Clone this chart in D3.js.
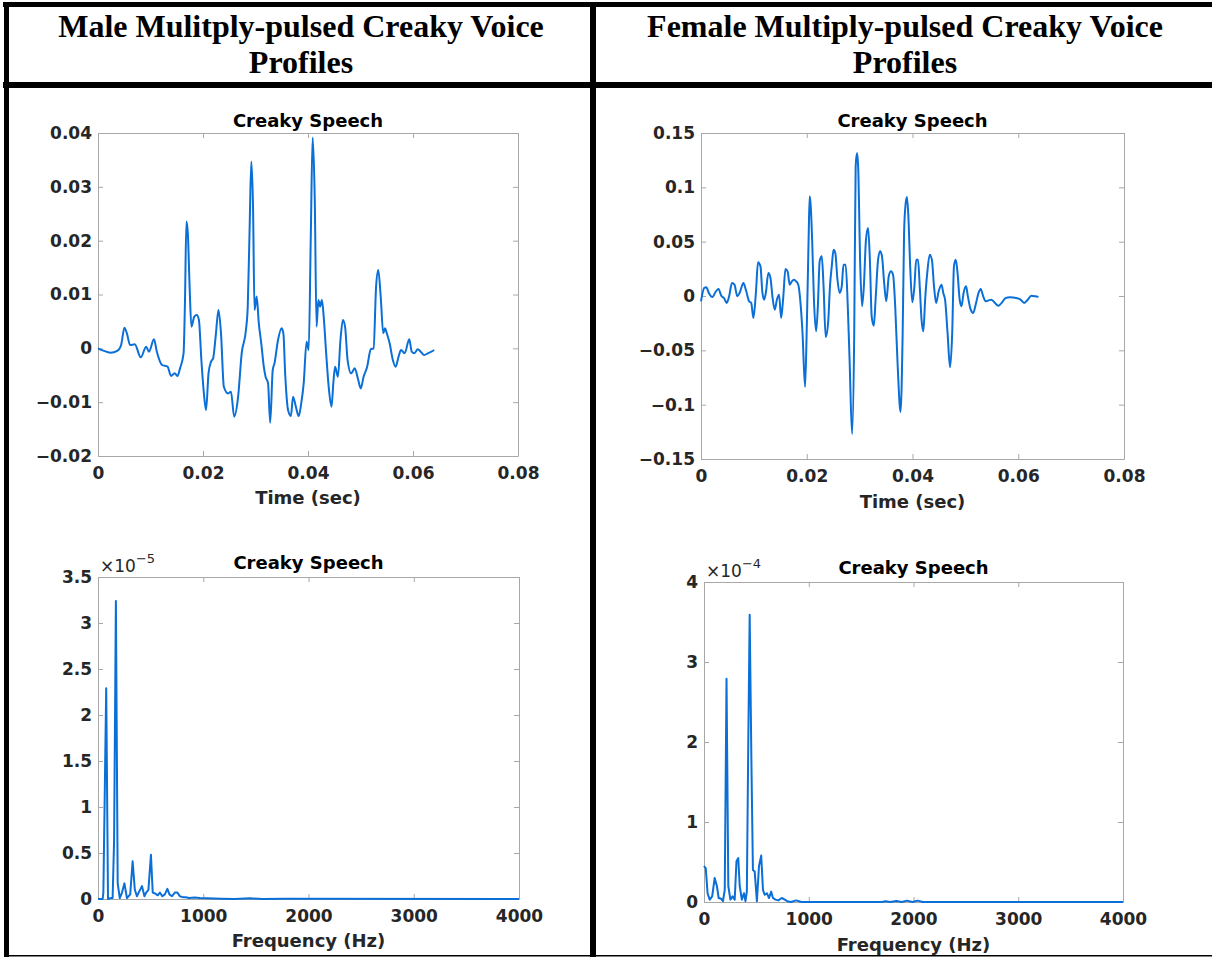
<!DOCTYPE html>
<html>
<head>
<meta charset="utf-8">
<script src="https://cdn.jsdelivr.net/npm/d3@7"></script>
<style>
  html, body { margin: 0; padding: 0; background: #fff; }
  svg { display: block; }
</style>
</head>
<body>
<script>
// ---- Data -----------------------------------------------------------------

// Male creaky speech segment: time (ms) and amplitude (×1e-3)
const maleTimeMs = [0.00,1.02,2.38,3.74,4.41,5.03,5.50,6.11,7.00,8.15,
  9.17,9.71,10.66,11.21,12.22,13.24,13.92,14.60,15.14,15.62,
  16.30,16.57,16.84,17.11,17.45,17.79,18.34,18.81,19.22,19.69,
  20.17,20.58,21.05,21.53,21.93,22.41,22.95,23.43,23.97,24.79,
  25.33,25.94,26.69,27.37,28.18,28.52,28.86,29.20,29.54,29.81,
  30.22,30.63,31.10,31.58,31.92,32.39,32.80,33.28,33.62,34.29,
  34.97,35.31,35.65,36.20,36.74,37.15,37.69,38.23,38.71,39.18,
  39.73,40.13,40.54,40.88,41.29,41.63,41.97,42.31,42.65,42.99,
  43.46,43.94,44.48,44.82,45.16,45.70,46.18,46.65,47.06,47.54,
  48.22,48.90,49.57,50.05,50.59,51.27,51.95,52.49,52.97,53.38,
  53.85,54.33,54.67,55.01,55.55,56.16,56.70,57.25,57.72,58.40,
  59.29,59.76,60.24,60.92,61.46,62.14,62.82,63.50,64.04];
const maleAmpMilli = [0.0,-0.43,-0.81,-0.43,0.62,3.84,2.79,0.62,0.74,-1.67,
  0.31,-0.62,1.67,-0.62,-3.10,-3.41,-5.14,-4.65,-5.14,-3.72,
  -0.93,8.99,23.55,21.38,11.47,4.03,5.89,6.20,5.27,-2.17,
  -8.37,-11.47,-4.65,-2.48,-1.86,2.17,7.13,2.79,-7.13,-8.37,
  -8.06,-12.71,-8.99,-0.93,3.41,7.75,21.38,34.71,25.72,7.13,
  9.61,4.65,0.93,-3.41,-5.27,-6.51,-13.82,-4.03,-2.79,1.55,
  3.72,2.79,-4.65,-11.47,-12.58,-8.99,-10.85,-12.58,-10.23,-6.51,
  1.24,-0.31,21.38,39.17,27.58,4.03,8.99,7.75,8.99,5.89,
  -0.93,-7.13,-10.85,-6.51,-3.41,-5.27,1.55,5.27,4.03,-2.17,
  -4.65,-3.72,-5.89,-7.44,-5.27,-3.41,-0.19,0.0,11.47,14.57,
  9.61,2.79,3.72,2.79,0.93,-2.17,-3.41,-1.55,-0.31,-0.93,
  1.67,-0.62,-0.93,-0.19,-0.62,-1.24,-0.93,-0.62,-0.31];

// Female creaky speech segment: time (ms) and amplitude (×1e-3)
const femaleTimeMs = [0.00,0.61,1.01,1.48,2.16,2.83,3.30,3.84,4.38,4.85,
  5.32,5.86,6.33,6.87,7.35,8.02,8.56,9.10,9.50,9.91,
  10.38,10.78,11.25,11.59,11.93,12.26,12.74,13.14,13.54,13.95,
  14.35,14.76,15.16,15.57,15.97,16.37,16.78,17.18,17.59,17.99,
  18.40,18.87,19.20,19.68,20.01,20.35,20.55,20.75,21.02,21.36,
  21.77,22.10,22.44,22.84,23.18,23.58,24.06,24.39,24.73,25.07,
  25.40,25.81,26.21,26.62,26.95,27.36,27.76,28.10,28.57,28.98,
  29.25,29.51,29.72,30.12,30.46,30.80,31.20,31.60,31.94,32.28,
  32.68,33.02,33.49,33.89,34.23,34.64,35.04,35.51,35.92,36.32,
  36.73,37.20,37.74,38.14,38.41,38.68,38.95,39.22,39.56,39.96,
  40.36,40.70,41.04,41.37,41.71,42.05,42.39,42.79,43.26,43.67,
  44.07,44.47,44.95,45.49,45.82,46.16,46.63,47.10,47.51,47.84,
  48.18,48.52,48.92,49.26,49.66,50.13,50.47,51.01,51.48,52.02,
  52.49,52.90,53.37,53.84,54.38,54.92,55.73,56.27,56.94,57.61,
  58.42,59.64,60.44,61.12,61.79,62.47,63.27,63.81];
const femaleAmpMilli = [-4.9,7.4,8.0,2.8,-0.9,4.3,6.4,0.3,-2.1,-6.4,
  -0.3,12.0,10.4,-0.3,3.4,12.0,4.3,-4.9,-6.4,-20.2,
  2.8,31.0,27.3,4.3,-3.4,2.8,21.2,16.6,-1.8,-12.6,
  -3.4,1.2,-20.2,-0.3,24.8,22.7,10.4,13.5,15.0,13.5,
  10.4,-9.5,-34.0,-83.7,-27.9,51.8,91.7,83.1,51.8,-3.4,
  -32.5,-9.5,31.9,36.5,8.9,-37.7,-23.3,8.9,27.3,42.6,
  39.6,15.0,2.8,8.9,28.8,28.8,-9.5,-58.6,-127.0,-34.0,
  119.3,131.6,119.3,27.3,-9.5,8.9,51.8,62.6,33.4,-18.7,
  -27.3,-3.4,33.4,41.1,36.5,12.0,-4.9,18.1,22.7,19.6,
  -9.5,-64.7,-106.7,-34.0,58.0,84.0,91.1,73.3,27.3,-5.8,
  8.9,33.4,33.4,8.9,-21.8,-32.5,-3.4,21.2,38.0,33.4,
  8.9,-6.4,4.3,10.4,2.8,-3.4,-34.0,-65.6,-34.0,27.3,
  33.4,21.2,-3.4,-9.5,2.8,8.9,-0.3,-12.6,-15.6,-6.4,
  2.8,6.4,-0.3,-4.9,-4.0,-3.4,-7.1,-8.9,-5.8,-1.8,
  -1.2,-1.8,-3.4,-6.4,-3.4,0.3,-0.3,-0.9];

// Magnitude spectra: frequency (Hz) and magnitude (male ×1e-5, female ×1e-4)
const maleFreqHz = [0,44,51,78,95,119,139,153,170,187,
  207,228,251,275,306,329,350,370,391,418,
  441,458,479,503,520,543,567,588,611,635,
  659,679,703,730,754,778,805,832,866,917,
  968,1036,1172,1300,1443,1560,1783,4000];
const maleMag = [0,0,0.07,2.29,0,0.01,0.01,0.64,3.24,0.17,
  0.01,0.07,0.17,0.01,0.05,0.41,0.10,0.03,0.08,0.14,
  0.03,0.07,0.10,0.48,0.07,0.06,0.04,0.07,0.03,0.05,
  0.11,0.05,0.03,0.07,0.07,0.03,0.02,0.02,0.01,0.015,
  0.01,0.007,0.004,0.001,0.007,0.001,0.004,0];

const femaleFreqHz = [0,17,34,55,78,102,123,140,164,181,
  198,215,232,252,273,293,310,327,341,361,
  382,396,409,423,436,454,467,484,505,525,
  546,563,580,600,621,641,658,682,709,743,
  771,795,829,880,931,1050,1391,1700,1732,1780,
  1835,1890,1937,1990,2039,2090,4000];
const femaleMag = [0.45,0.42,0.11,0.03,0.07,0.30,0.20,0.05,0.04,0.01,
  0.15,2.79,0.20,0.03,0.07,0.03,0.51,0.55,0.20,0.03,
  0.11,0.01,0.13,2.03,3.59,1.61,0.40,0.38,0.01,0.45,
  0.58,0.15,0.09,0.11,0.05,0.13,0.05,0.03,0.02,0.05,
  0.03,0.01,0,0.02,0,0,0,0,0.01,0,
  0.012,0,0.017,0,0.017,0,0];

// Tick values
const timeTicks = [0, 0.02, 0.04, 0.06, 0.08];
const freqTicks = [0, 1000, 2000, 3000, 4000];
const maleWaveTicks = [-0.02, -0.01, 0, 0.01, 0.02, 0.03, 0.04];
const femaleWaveTicks = [-0.15, -0.1, -0.05, 0, 0.05, 0.1, 0.15];
const maleSpecTicks = [0, 0.5, 1, 1.5, 2, 2.5, 3, 3.5];
const femaleSpecTicks = [0, 1, 2, 3, 4];

// Column headings
const headings = [
  ["Male Mulitply-pulsed Creaky Voice", "Profiles"],
  ["Female Multiply-pulsed Creaky Voice", "Profiles"]
];

// ---- Drawing ---------------------------------------------------------------

const W = 1212, H = 957;
const svg = d3.select("body").append("svg").attr("width", W).attr("height", H);

const AX_FONT = "'DejaVu Sans', 'Open Sans', sans-serif";
const TEXT_COLOR = "#262626";
const AXIS_COLOR = "#a8a8a8";
const LINE_COLOR = "#0a6fd6";

// Table frame
const frame = svg.append("g").attr("fill", "#000");
frame.append("rect").attr("x", 3).attr("y", 2).attr("width", W - 3).attr("height", 5);
frame.append("rect").attr("x", 3).attr("y", 82).attr("width", W - 3).attr("height", 6);
frame.append("rect").attr("x", 4).attr("y", 2).attr("width", 5).attr("height", H - 2);
frame.append("rect").attr("x", 590).attr("y", 2).attr("width", 6).attr("height", H - 2);
frame.append("rect").attr("x", 4).attr("y", H - 2).attr("width", W - 4).attr("height", 1.5);

// Headings
const headCenters = [301, 905];
headings.forEach((lines, i) => {
  const t = svg.append("text")
    .attr("x", headCenters[i])
    .attr("text-anchor", "middle")
    .attr("font-family", "'Liberation Serif', 'Times New Roman', serif")
    .attr("font-weight", "bold")
    .attr("font-size", 32)
    .attr("fill", "#000");
  lines.forEach((ln, j) => {
    t.append("tspan").attr("x", headCenters[i]).attr("y", 37 + j * 36).text(ln);
  });
});

// Number format: trims trailing zeros and uses a true minus sign
const fmt = d => {
  if (d === 0) return "0";
  const s = String(+Math.abs(d).toFixed(4));
  return (d < 0 ? "\u2212" : "") + s;
};

const panels = [
  { box: [98, 518, 133, 456], xDomain: [0, 0.08], yDomain: [-0.02, 0.04],
    xTicks: timeTicks, yTicks: maleWaveTicks,
    data: d3.zip(maleTimeMs, maleAmpMilli).map(([t, v]) => [t / 1000, v / 1000]),
    curve: d3.curveMonotoneX, titleY: 127, xLabel: "Time (sec)", xLabelY: 504 },
  { box: [701, 1124, 133, 459], xDomain: [0, 0.08], yDomain: [-0.15, 0.15],
    xTicks: timeTicks, yTicks: femaleWaveTicks,
    data: d3.zip(femaleTimeMs, femaleAmpMilli).map(([t, v]) => [t / 1000, v / 1000]),
    curve: d3.curveMonotoneX, titleY: 127, xLabel: "Time (sec)", xLabelY: 508 },
  { box: [98, 519, 577, 899], xDomain: [0, 4000], yDomain: [0, 3.5],
    xTicks: freqTicks, yTicks: maleSpecTicks,
    data: d3.zip(maleFreqHz, maleMag),
    curve: d3.curveLinear, titleY: 569, xLabel: "Frequency (Hz)", xLabelY: 947, exponent: "\u22125" },
  { box: [704, 1123, 582, 902], xDomain: [0, 4000], yDomain: [0, 4],
    xTicks: freqTicks, yTicks: femaleSpecTicks,
    data: d3.zip(femaleFreqHz, femaleMag),
    curve: d3.curveLinear, titleY: 574, xLabel: "Frequency (Hz)", xLabelY: 951, exponent: "\u22124" }
];

panels.forEach(p => {
  const [x0, x1, y0, y1] = p.box;
  const x = d3.scaleLinear().domain(p.xDomain).range([x0, x1]);
  const y = d3.scaleLinear().domain(p.yDomain).range([y1, y0]);
  const g = svg.append("g");

  // mirrored inward ticks on all four sides
  const styleAxis = (sel) => {
    sel.selectAll(".domain").attr("stroke", AXIS_COLOR).attr("stroke-width", 1);
    sel.selectAll(".tick line").attr("stroke", AXIS_COLOR).attr("stroke-width", 1);
    sel.selectAll(".tick text")
      .attr("fill", TEXT_COLOR)
      .attr("font-family", AX_FONT)
      .attr("font-weight", "bold")
      .attr("font-size", 17);
  };

  g.append("g").attr("transform", `translate(0,${y1})`)
    .call(d3.axisBottom(x).tickValues(p.xTicks).tickFormat(fmt)
      .tickSizeInner(-5).tickSizeOuter(0).tickPadding(11))
    .call(styleAxis);
  g.append("g").attr("transform", `translate(0,${y0})`)
    .call(d3.axisTop(x).tickValues(p.xTicks).tickFormat("")
      .tickSizeInner(-5).tickSizeOuter(0))
    .call(styleAxis);
  g.append("g").attr("transform", `translate(${x0},0)`)
    .call(d3.axisLeft(y).tickValues(p.yTicks).tickFormat(fmt)
      .tickSizeInner(-5).tickSizeOuter(0).tickPadding(6))
    .call(styleAxis);
  g.append("g").attr("transform", `translate(${x1},0)`)
    .call(d3.axisRight(y).tickValues(p.yTicks).tickFormat("")
      .tickSizeInner(-5).tickSizeOuter(0))
    .call(styleAxis);

  // signal trace
  const line = d3.line().x(d => x(d[0])).y(d => y(d[1])).curve(p.curve);
  g.append("path").datum(p.data)
    .attr("d", line)
    .attr("fill", "none")
    .attr("stroke", LINE_COLOR)
    .attr("stroke-width", 2)
    .attr("stroke-linejoin", "round");

  // title
  g.append("text")
    .attr("x", (x0 + x1) / 2).attr("y", p.titleY)
    .attr("text-anchor", "middle")
    .attr("font-family", AX_FONT).attr("font-weight", "bold").attr("font-size", 18)
    .attr("fill", "#000")
    .text("Creaky Speech");

  // x label
  g.append("text")
    .attr("x", (x0 + x1) / 2).attr("y", p.xLabelY)
    .attr("text-anchor", "middle")
    .attr("font-family", AX_FONT).attr("font-weight", "bold").attr("font-size", 18)
    .attr("fill", TEXT_COLOR)
    .text(p.xLabel);

  // exponent multiplier for the spectra
  if (p.exponent) {
    const e = g.append("text")
      .attr("x", x0 + 2).attr("y", y0 - 5)
      .attr("font-family", AX_FONT).attr("font-size", 17)
      .attr("fill", TEXT_COLOR);
    e.append("tspan").text("\u00d710");
    e.append("tspan").attr("dy", -9).attr("font-size", 13).text(p.exponent);
  }
});
</script>
</body>
</html>
